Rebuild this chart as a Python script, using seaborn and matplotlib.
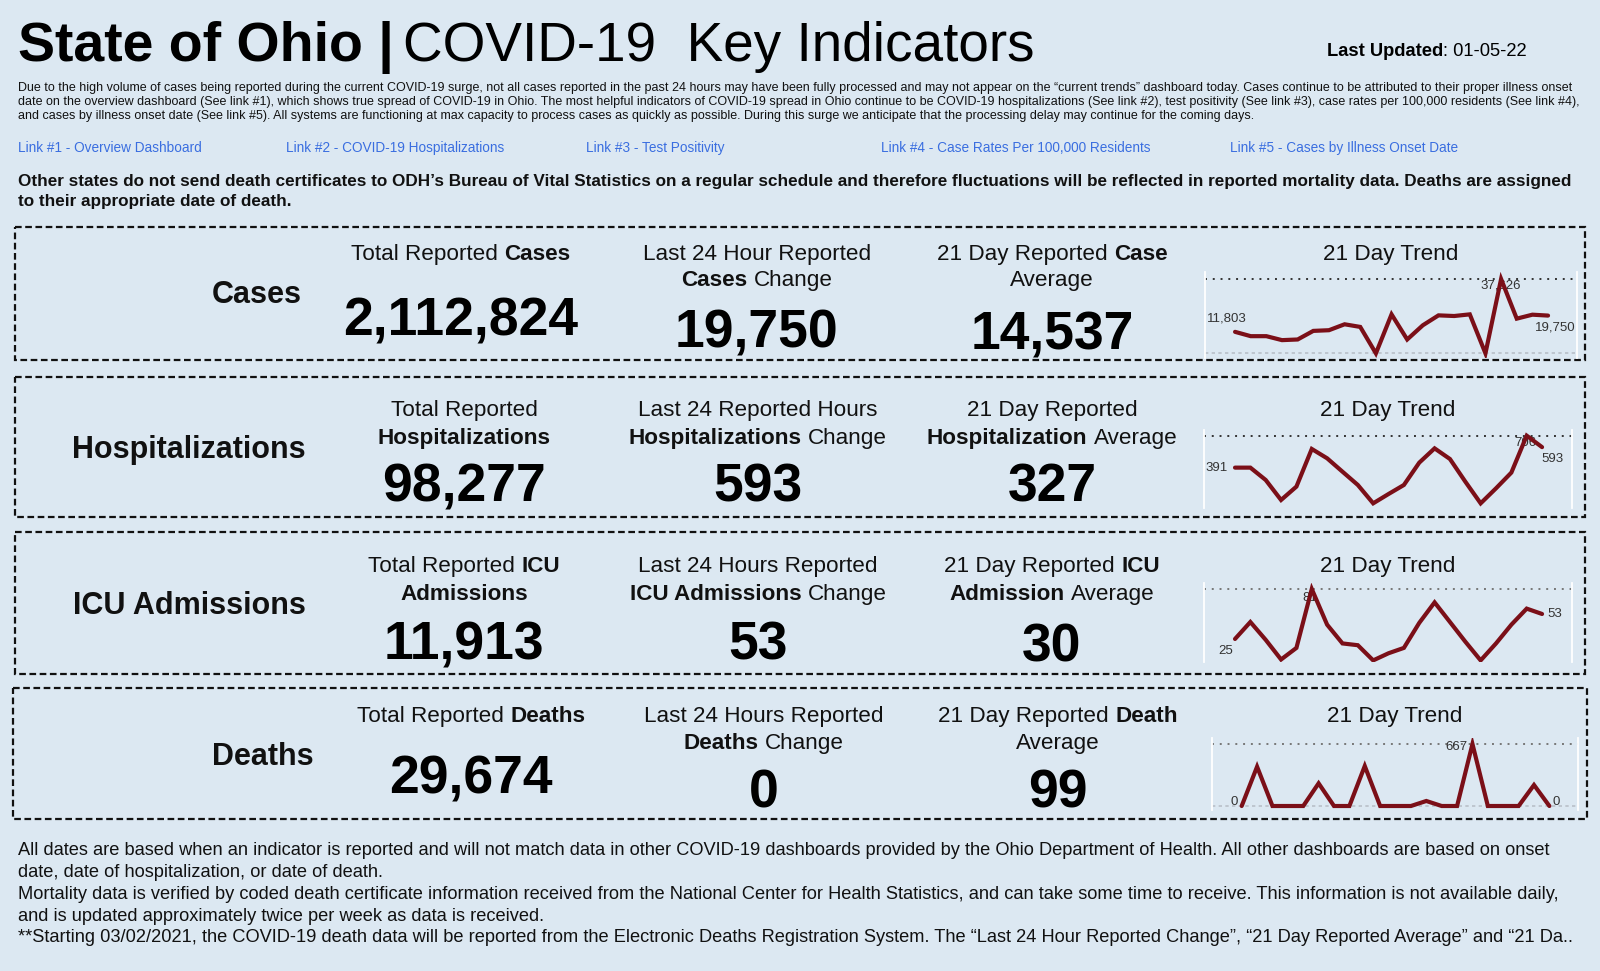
import matplotlib
matplotlib.use("Agg")
import matplotlib.pyplot as plt
from matplotlib.patches import Rectangle
import seaborn as sns
import numpy as np
import pandas as pd

# ---------------- data ----------------
categories = ["Cases", "Hospitalizations", "ICU Admissions", "Deaths"]
totals = [2112824, 98277, 11913, 29674]
changes_24h = [19750, 593, 53, 0]
averages_21d = [14537, 327, 30, 99]

days = list(range(1, 22))
cases_trend = [11803, 9690, 9690, 7750, 8070, 12270, 12600, 15500, 14210, 1290, 20350,
               8070, 15020, 19860, 19540, 20350, 1290, 37626, 18250, 20190, 19750]
hosp_trend = [391, 391, 269, 72, 204, 575, 483, 351, 220, 39, 131,
              220, 440, 581, 476, 253, 39, 187, 342, 706, 593]
icu_trend = [25, 44, 24, 2, 15, 81, 41, 20, 18, 1, 9,
             15, 43, 66, 44, 22, 1, 20, 41, 59, 53]
deaths_trend = [0, 423, 0, 0, 0, 244, 0, 0, 430, 0, 0,
                0, 54, 0, 0, 667, 0, 0, 0, 226, 0]

title_bold = "State of Ohio | "
title_regular = "COVID-19  Key Indicators"
last_updated = "01-05-22"

notice_lines = [
    "Due to the high volume of cases being reported during the current COVID-19 surge, not all cases reported in the past 24 hours may have been fully processed and may not appear on the \u201ccurrent trends\u201d dashboard today. Cases continue to be attributed to their proper illness onset",
    "date on the overview dashboard (See link #1), which shows true spread of COVID-19 in Ohio. The most helpful indicators of COVID-19 spread in Ohio continue to be COVID-19 hospitalizations (See link #2), test positivity (See link #3), case rates per 100,000 residents (See link #4),",
    "and cases by illness onset date (See link #5). All systems are functioning at max capacity to process cases as quickly as possible. During this surge we anticipate that the processing delay may continue for the coming days.",
]
links = ["Link #1 - Overview Dashboard", "Link #2 - COVID-19 Hospitalizations",
         "Link #3 - Test Positivity", "Link #4 - Case Rates Per 100,000 Residents",
         "Link #5 - Cases by Illness Onset Date"]
bold_notice = [
    "Other states do not send death certificates to ODH\u2019s Bureau of Vital Statistics on a regular schedule and therefore fluctuations will be reflected in reported mortality data. Deaths are assigned",
    "to their appropriate date of death.",
]
footer_lines = [
    "All dates are based when an indicator is reported and will not match data in other COVID-19 dashboards provided by the Ohio Department of Health. All other dashboards are based on onset",
    "date, date of hospitalization, or date of death.",
    "Mortality data is verified by coded death certificate information received from the National Center for Health Statistics, and can take some time to receive. This information is not available daily,",
    "and is updated approximately twice per week as data is received.",
    "**Starting 03/02/2021, the COVID-19 death data will be reported from the Electronic Deaths Registration System. The \u201cLast 24 Hour Reported Change\u201d, \u201c21 Day Reported Average\u201d and \u201c21 Da..",
]

headers = [
    [[[("Total Reported", False), ("Cases", True)]],
     [[("Last 24 Hour Reported", False)], [("Cases", True), ("Change", False)]],
     [[("21 Day Reported", False), ("Case", True)], [("Average", False)]]],
    [[[("Total Reported", False)], [("Hospitalizations", True)]],
     [[("Last 24 Reported Hours", False)], [("Hospitalizations", True), ("Change", False)]],
     [[("21 Day Reported", False)], [("Hospitalization", True), ("Average", False)]]],
    [[[("Total Reported", False), ("ICU", True)], [("Admissions", True)]],
     [[("Last 24 Hours Reported", False)], [("ICU Admissions", True), ("Change", False)]],
     [[("21 Day Reported", False), ("ICU", True)], [("Admission", True), ("Average", False)]]],
    [[[("Total Reported", False), ("Deaths", True)]],
     [[("Last 24 Hours Reported", False)], [("Deaths", True), ("Change", False)]],
     [[("21 Day Reported", False), ("Death", True)], [("Average", False)]]],
]
trend_title = "21 Day Trend"

# ---------------- style ----------------
sns.set_theme(style="white")
plt.rcParams['font.family'] = ['Liberation Sans', 'DejaVu Sans']
plt.rcParams['text.color'] = 'black'

BG = "#dce8f2"
LINE = "#7b0f18"
LINK = "#3a6ee0"
W, H = 1600, 971

fig = plt.figure(figsize=(16, 9.71), dpi=100, facecolor=BG)
ax = fig.add_axes([0, 0, 1, 1])
ax.set_xlim(0, W)
ax.set_ylim(H, 0)
ax.axis('off')
renderer = fig.canvas.get_renderer()


def twidth(s, size, bold=False):
    t = ax.text(0, 0, s, fontsize=size, fontweight='bold' if bold else 'normal')
    w = t.get_window_extent(renderer).width
    t.remove()
    return w


def fit(s, target, bold=False):
    return 10.0 * target / twidth(s, 10, bold)


def rich(x, y, parts, size, ha='center', color='black', sep=True):
    sp = 0.2778 * size * 100 / 72 if sep else 0
    widths = [twidth(t, size, b) for t, b in parts]
    total = sum(widths) + sp * (len(parts) - 1)
    if ha == 'center':
        x0 = x - total / 2
    elif ha == 'right':
        x0 = x - total
    else:
        x0 = x
    for (t, b), w in zip(parts, widths):
        ax.text(x0, y, t, fontsize=size, fontweight='bold' if b else 'normal',
                ha='left', va='baseline', color=color)
        x0 += w + sp


# ---------------- header ----------------
ax.text(18, 61, title_bold, fontsize=40, fontweight='bold', va='baseline', ha='left',
        color='black')
wb = twidth("State of Ohio |", 40, True)
ax.text(18 + wb + 9, 61, title_regular, fontsize=39.5,
        va='baseline', ha='left', color='black')
rich(1327, 56, [("Last Updated", True), (": " + last_updated, False)], 13.2,
     ha='left', sep=False)

small = fit(notice_lines[0], 1553)
for i, line in enumerate(notice_lines):
    ax.text(18, 91 + 14 * i, line, fontsize=small, va='baseline', ha='left', color='#111')

link_x = [18, 286, 586, 881, 1230]
lsize = fit(links[0], 184)
for lx, lt in zip(link_x, links):
    ax.text(lx, 152, lt, fontsize=lsize, va='baseline', ha='left', color=LINK)

bsize = fit(bold_notice[0], 1550, True)
for i, line in enumerate(bold_notice):
    ax.text(18, 186 + 20 * i, line, fontsize=bsize, fontweight='bold',
            va='baseline', ha='left', color='#111')

# ---------------- boxes ----------------
boxes = [(15, 227, 1585, 360), (15, 377, 1585, 517), (15, 532, 1585, 674), (13, 688, 1587, 819)]
for (x0, y0, x1, y1) in boxes:
    ax.add_patch(Rectangle((x0, y0), x1 - x0, y1 - y0, fill=False, ec='#111',
                           lw=1.6, ls=(0, (3.0, 1.6))))

label_x = [257, 189, 189, 263]
label_y = [303, 458, 614, 765]
col_x = [[461, 757, 1052], [464, 758, 1052], [464, 758, 1052], [471, 764, 1058]]
head_y = [[260, 286], [416, 444], [572, 600], [722, 749]]
val_y = [[335, 348, 350], [502, 502, 502], [659, 659, 661], [793, 808, 808]]
trend_x = [1391, 1388, 1388, 1395]

HS = 16.2
VS = 38.5
for r in range(4):
    ax.text(label_x[r], label_y[r], categories[r], fontsize=22, fontweight='bold',
            ha='center', va='baseline', color='#111')
    vals = [totals[r], changes_24h[r], averages_21d[r]]
    for c in range(3):
        for li, parts in enumerate(headers[r][c]):
            rich(col_x[r][c], head_y[r][li], parts, HS, color='#111')
        ax.text(col_x[r][c], val_y[r][c], f"{vals[c]:,}", fontsize=VS, fontweight='bold',
                ha='center', va='baseline', color='black')
    ax.text(trend_x[r], head_y[r][0], trend_title, fontsize=HS, ha='center',
            va='baseline', color='#111')

# ---------------- sparklines ----------------
spark_cfg = [
    dict(data=cases_trend, rect=(1205, 272, 1577, 358), xlim=(-1.92, 21.85), ylim=(-977, 41046),
         first=(12, 13, 'right'), mx=(0, -7, 'center'), last=(7, -12, 'center'),
         top='#333', bottom=True),
    dict(data=hosp_trend, rect=(1204, 430, 1572, 508), xlim=(-2.02, 21.95), ylim=(-7, 762),
         first=(-7, 0, 'right'), mx=(-1, -7, 'center'), last=(10, -12, 'center'),
         top='#333', bottom=False),
    dict(data=icu_trend, rect=(1204, 583, 1572, 662), xlim=(-2.02, 21.95), ylim=(-0.8, 87.7),
         first=(-9, -12, 'center'), mx=(-2, -9, 'center'), last=(5, 0, 'left'),
         top='#777', bottom=False),
    dict(data=deaths_trend, rect=(1212, 738, 1578, 810), xlim=(-1.93, 21.86), ylim=(-43, 731.5),
         first=(-8, 4, 'center'), mx=(-5, -3, 'right'), last=(7, 4, 'center'),
         top='#777', bottom=True),
]

for cfg in spark_cfg:
    l, t, r_, b = cfg['rect']
    a = fig.add_axes([l / W, 1 - b / H, (r_ - l) / W, (b - t) / H])
    a.set_facecolor('none')
    vals = cfg['data']
    df = pd.DataFrame({'idx': range(len(vals)), 'value': vals})
    vmax = max(vals)
    a.axhline(vmax, ls=(0, (1, 3)), color=cfg['top'], lw=1.4, zorder=1)
    if cfg['bottom']:
        a.axhline(min(vals), ls=(0, (2, 2)), color='#b9c0c8', lw=1.2, zorder=1)
    sns.lineplot(data=df, x='idx', y='value', ax=a, color=LINE, lw=3.0, zorder=3,
                 solid_joinstyle='miter')
    a.set_xlim(cfg['xlim'])
    a.set_ylim(cfg['ylim'])
    a.set_xticks([])
    a.set_yticks([])
    a.set_xlabel('')
    a.set_ylabel('')
    for s in ['top', 'bottom']:
        a.spines[s].set_visible(False)
    for s in ['left', 'right']:
        a.spines[s].set_visible(True)
        a.spines[s].set_color('white')
        a.spines[s].set_linewidth(1.3)
    imax = int(np.argmax(vals))
    for i, (dx, dy, ha) in [(0, cfg['first']), (imax, cfg['mx']), (len(vals) - 1, cfg['last'])]:
        a.annotate(f"{vals[i]:,}", (i, vals[i]), xytext=(dx, dy), textcoords='offset pixels',
                   ha=ha, va='center', fontsize=9.5, color='#333', zorder=2,
                   annotation_clip=False)

# ---------------- footer ----------------
fsize = fit(footer_lines[0], 1536)
fy = [855, 877, 899, 921, 942]
for y, line in zip(fy, footer_lines):
    ax.text(18, y, line, fontsize=fsize, va='baseline', ha='left', color='#111')

fig.savefig("out.png", dpi=100, facecolor=BG)
